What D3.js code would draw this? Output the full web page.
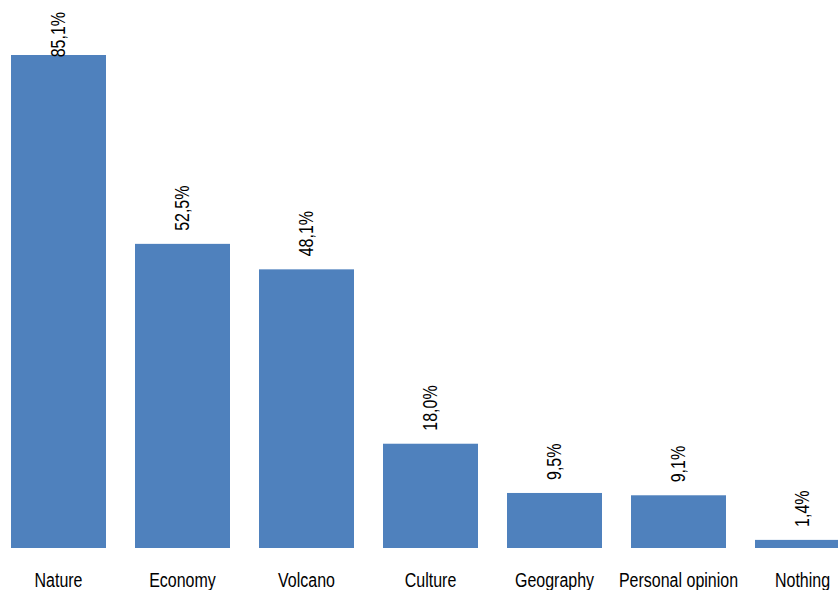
<!DOCTYPE html>
<html>
<head>
<meta charset="utf-8">
<script src="https://cdn.jsdelivr.net/npm/d3@7"></script>
<style>
  html, body { margin: 0; padding: 0; background: #fff; }
  svg { display: block; }
  text { font-family: "Liberation Sans", Arial, sans-serif; fill: #000; }
</style>
</head>
<body>
<svg id="chart" width="838" height="590"></svg>
<script>
const categories = ["Nature", "Economy", "Volcano", "Culture", "Geography", "Personal opinion", "Nothing"];
const values = [85.1, 52.5, 48.1, 18.0, 9.5, 9.1, 1.4];
const valueLabels = ["85,1%", "52,5%", "48,1%", "18,0%", "9,5%", "9,1%", "1,4%"];

const W = 838, H = 590;
const FONT = 19.5;
const NARROW = 0.82; // horizontal squeeze to get a narrow face
const svg = d3.select("#chart");

// seven bands of 124px; the last one runs past the right edge
const step = 124, gap = 29;
const x = d3.scaleBand()
  .domain(categories)
  .range([11, 11 + step * categories.length - gap])
  .paddingInner(gap / step)
  .paddingOuter(0);

const y = d3.scaleLinear()
  .domain([0, 85.1])
  .range([548, 55]);

svg.append("g")
  .selectAll("rect")
  .data(categories)
  .join("rect")
  .attr("x", d => x(d))
  .attr("y", (d, i) => y(values[i]))
  .attr("width", x.bandwidth())
  .attr("height", (d, i) => y(0) - y(values[i]))
  .attr("fill", "#4F81BD");

// rotated value labels above each bar, kept inside the top edge
const lbl = svg.append("g")
  .selectAll("text")
  .data(categories)
  .join("text")
  .attr("font-size", FONT)
  .attr("text-anchor", "start")
  .attr("dy", "0.35em")
  .text((d, i) => valueLabels[i]);

lbl.each(function(d, i) {
  const len = this.getComputedTextLength() * NARROW;
  let yy = y(values[i]) - 13;
  if (yy - len < 12) yy = 12 + len;
  const cx = x(d) + x.bandwidth() / 2;
  d3.select(this).attr("transform", `translate(${cx},${yy}) rotate(-90) scale(${NARROW},1)`);
});

// category labels under the bars
svg.append("g")
  .selectAll("text")
  .data(categories)
  .join("text")
  .attr("font-size", FONT)
  .attr("text-anchor", "middle")
  .attr("transform", d => `translate(${x(d) + x.bandwidth() / 2},587) scale(${NARROW},1)`)
  .text(d => d);
</script>
</body>
</html>
